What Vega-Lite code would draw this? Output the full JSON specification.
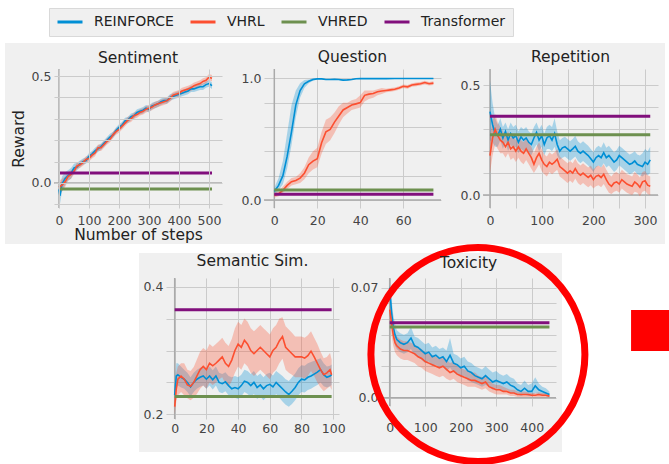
{
"$schema":"https://vega.github.io/schema/vega-lite/v6.json",
"background":"white",
"padding":{"left":5,"top":7,"right":0,"bottom":0},
"bounds":"flush",
"spacing":209,
"resolve":{"scale":{"color":"shared"},"legend":{"color":"shared"}},
"datasets":{
"baselines":[
{"task":"Sentiment","method":"VHRED","reward":-0.028,"from":0,"to":510},
{"task":"Sentiment","method":"Transformer","reward":0.047,"from":0,"to":510},
{"task":"Question","method":"VHRED","reward":0.082,"from":0,"to":74},
{"task":"Question","method":"Transformer","reward":0.047,"from":0,"to":74},
{"task":"Repetition","method":"VHRED","reward":0.275,"from":0,"to":310},
{"task":"Repetition","method":"Transformer","reward":0.359,"from":0,"to":310},
{"task":"Semantic Sim.","method":"VHRED","reward":0.228,"from":0,"to":99},
{"task":"Semantic Sim.","method":"Transformer","reward":0.364,"from":0,"to":99},
{"task":"Toxicity","method":"VHRED","reward":0.045,"from":0,"to":450},
{"task":"Toxicity","method":"Transformer","reward":0.0477,"from":0,"to":450}
],
"sentiment":[
{"method":"REINFORCE","step":0,"reward":-0.03,"lo":-0.07,"hi":0.01},
{"method":"REINFORCE","step":3,"reward":-0.06,"lo":-0.1,"hi":-0.02},
{"method":"REINFORCE","step":10,"reward":-0.005,"lo":-0.04,"hi":0.03},
{"method":"REINFORCE","step":20,"reward":0.02,"lo":-0.01,"hi":0.05},
{"method":"REINFORCE","step":30,"reward":0.035,"lo":0.01,"hi":0.06},
{"method":"REINFORCE","step":40,"reward":0.045,"lo":0.02,"hi":0.07},
{"method":"REINFORCE","step":50,"reward":0.07,"lo":0.05,"hi":0.09},
{"method":"REINFORCE","step":60,"reward":0.075,"lo":0.06,"hi":0.095},
{"method":"REINFORCE","step":70,"reward":0.09,"lo":0.075,"hi":0.105},
{"method":"REINFORCE","step":80,"reward":0.1,"lo":0.085,"hi":0.115},
{"method":"REINFORCE","step":90,"reward":0.105,"lo":0.09,"hi":0.12},
{"method":"REINFORCE","step":100,"reward":0.125,"lo":0.11,"hi":0.14},
{"method":"REINFORCE","step":110,"reward":0.135,"lo":0.12,"hi":0.15},
{"method":"REINFORCE","step":120,"reward":0.15,"lo":0.135,"hi":0.165},
{"method":"REINFORCE","step":130,"reward":0.16,"lo":0.145,"hi":0.175},
{"method":"REINFORCE","step":140,"reward":0.17,"lo":0.155,"hi":0.185},
{"method":"REINFORCE","step":150,"reward":0.185,"lo":0.17,"hi":0.2},
{"method":"REINFORCE","step":160,"reward":0.2,"lo":0.185,"hi":0.215},
{"method":"REINFORCE","step":170,"reward":0.215,"lo":0.2,"hi":0.23},
{"method":"REINFORCE","step":180,"reward":0.225,"lo":0.21,"hi":0.24},
{"method":"REINFORCE","step":190,"reward":0.245,"lo":0.23,"hi":0.26},
{"method":"REINFORCE","step":200,"reward":0.26,"lo":0.245,"hi":0.275},
{"method":"REINFORCE","step":210,"reward":0.27,"lo":0.255,"hi":0.285},
{"method":"REINFORCE","step":220,"reward":0.29,"lo":0.275,"hi":0.305},
{"method":"REINFORCE","step":230,"reward":0.295,"lo":0.28,"hi":0.31},
{"method":"REINFORCE","step":240,"reward":0.31,"lo":0.295,"hi":0.325},
{"method":"REINFORCE","step":250,"reward":0.315,"lo":0.3,"hi":0.33},
{"method":"REINFORCE","step":260,"reward":0.33,"lo":0.315,"hi":0.345},
{"method":"REINFORCE","step":270,"reward":0.335,"lo":0.32,"hi":0.35},
{"method":"REINFORCE","step":280,"reward":0.34,"lo":0.325,"hi":0.355},
{"method":"REINFORCE","step":290,"reward":0.35,"lo":0.335,"hi":0.365},
{"method":"REINFORCE","step":300,"reward":0.345,"lo":0.33,"hi":0.36},
{"method":"REINFORCE","step":310,"reward":0.36,"lo":0.345,"hi":0.375},
{"method":"REINFORCE","step":320,"reward":0.365,"lo":0.35,"hi":0.38},
{"method":"REINFORCE","step":330,"reward":0.37,"lo":0.355,"hi":0.385},
{"method":"REINFORCE","step":340,"reward":0.38,"lo":0.365,"hi":0.395},
{"method":"REINFORCE","step":350,"reward":0.385,"lo":0.37,"hi":0.4},
{"method":"REINFORCE","step":360,"reward":0.385,"lo":0.37,"hi":0.4},
{"method":"REINFORCE","step":370,"reward":0.4,"lo":0.385,"hi":0.415},
{"method":"REINFORCE","step":380,"reward":0.405,"lo":0.39,"hi":0.42},
{"method":"REINFORCE","step":390,"reward":0.41,"lo":0.395,"hi":0.425},
{"method":"REINFORCE","step":400,"reward":0.415,"lo":0.4,"hi":0.43},
{"method":"REINFORCE","step":410,"reward":0.42,"lo":0.405,"hi":0.435},
{"method":"REINFORCE","step":420,"reward":0.425,"lo":0.41,"hi":0.44},
{"method":"REINFORCE","step":430,"reward":0.43,"lo":0.415,"hi":0.445},
{"method":"REINFORCE","step":440,"reward":0.44,"lo":0.425,"hi":0.455},
{"method":"REINFORCE","step":450,"reward":0.44,"lo":0.425,"hi":0.455},
{"method":"REINFORCE","step":460,"reward":0.445,"lo":0.43,"hi":0.46},
{"method":"REINFORCE","step":470,"reward":0.45,"lo":0.435,"hi":0.465},
{"method":"REINFORCE","step":480,"reward":0.45,"lo":0.435,"hi":0.465},
{"method":"REINFORCE","step":490,"reward":0.46,"lo":0.445,"hi":0.475},
{"method":"REINFORCE","step":500,"reward":0.465,"lo":0.45,"hi":0.48},
{"method":"REINFORCE","step":510,"reward":0.455,"lo":0.44,"hi":0.47},
{"method":"VHRL","step":0,"reward":-0.02,"lo":-0.05,"hi":0.01},
{"method":"VHRL","step":10,"reward":-0.01,"lo":-0.04,"hi":0.02},
{"method":"VHRL","step":20,"reward":0.005,"lo":-0.02,"hi":0.03},
{"method":"VHRL","step":30,"reward":0.03,"lo":0.01,"hi":0.05},
{"method":"VHRL","step":40,"reward":0.04,"lo":0.02,"hi":0.06},
{"method":"VHRL","step":50,"reward":0.055,"lo":0.04,"hi":0.07},
{"method":"VHRL","step":60,"reward":0.08,"lo":0.065,"hi":0.095},
{"method":"VHRL","step":70,"reward":0.085,"lo":0.07,"hi":0.1},
{"method":"VHRL","step":80,"reward":0.095,"lo":0.08,"hi":0.11},
{"method":"VHRL","step":90,"reward":0.11,"lo":0.095,"hi":0.125},
{"method":"VHRL","step":100,"reward":0.115,"lo":0.1,"hi":0.13},
{"method":"VHRL","step":110,"reward":0.13,"lo":0.115,"hi":0.145},
{"method":"VHRL","step":120,"reward":0.14,"lo":0.125,"hi":0.155},
{"method":"VHRL","step":130,"reward":0.165,"lo":0.15,"hi":0.18},
{"method":"VHRL","step":140,"reward":0.165,"lo":0.15,"hi":0.18},
{"method":"VHRL","step":150,"reward":0.18,"lo":0.165,"hi":0.195},
{"method":"VHRL","step":160,"reward":0.195,"lo":0.18,"hi":0.21},
{"method":"VHRL","step":170,"reward":0.205,"lo":0.19,"hi":0.22},
{"method":"VHRL","step":180,"reward":0.225,"lo":0.21,"hi":0.24},
{"method":"VHRL","step":190,"reward":0.24,"lo":0.225,"hi":0.255},
{"method":"VHRL","step":200,"reward":0.25,"lo":0.235,"hi":0.265},
{"method":"VHRL","step":210,"reward":0.265,"lo":0.25,"hi":0.28},
{"method":"VHRL","step":220,"reward":0.28,"lo":0.265,"hi":0.295},
{"method":"VHRL","step":230,"reward":0.295,"lo":0.28,"hi":0.31},
{"method":"VHRL","step":240,"reward":0.3,"lo":0.285,"hi":0.315},
{"method":"VHRL","step":250,"reward":0.315,"lo":0.3,"hi":0.33},
{"method":"VHRL","step":260,"reward":0.32,"lo":0.305,"hi":0.335},
{"method":"VHRL","step":270,"reward":0.33,"lo":0.315,"hi":0.345},
{"method":"VHRL","step":280,"reward":0.335,"lo":0.32,"hi":0.35},
{"method":"VHRL","step":290,"reward":0.345,"lo":0.33,"hi":0.36},
{"method":"VHRL","step":300,"reward":0.35,"lo":0.335,"hi":0.365},
{"method":"VHRL","step":310,"reward":0.355,"lo":0.34,"hi":0.37},
{"method":"VHRL","step":320,"reward":0.365,"lo":0.35,"hi":0.38},
{"method":"VHRL","step":330,"reward":0.37,"lo":0.355,"hi":0.385},
{"method":"VHRL","step":340,"reward":0.375,"lo":0.36,"hi":0.39},
{"method":"VHRL","step":350,"reward":0.38,"lo":0.365,"hi":0.395},
{"method":"VHRL","step":360,"reward":0.385,"lo":0.37,"hi":0.4},
{"method":"VHRL","step":370,"reward":0.395,"lo":0.38,"hi":0.41},
{"method":"VHRL","step":380,"reward":0.41,"lo":0.395,"hi":0.425},
{"method":"VHRL","step":390,"reward":0.415,"lo":0.4,"hi":0.43},
{"method":"VHRL","step":400,"reward":0.42,"lo":0.405,"hi":0.435},
{"method":"VHRL","step":410,"reward":0.43,"lo":0.415,"hi":0.445},
{"method":"VHRL","step":420,"reward":0.435,"lo":0.42,"hi":0.45},
{"method":"VHRL","step":430,"reward":0.44,"lo":0.425,"hi":0.455},
{"method":"VHRL","step":440,"reward":0.445,"lo":0.43,"hi":0.46},
{"method":"VHRL","step":450,"reward":0.455,"lo":0.44,"hi":0.47},
{"method":"VHRL","step":460,"reward":0.46,"lo":0.445,"hi":0.475},
{"method":"VHRL","step":470,"reward":0.465,"lo":0.45,"hi":0.48},
{"method":"VHRL","step":480,"reward":0.475,"lo":0.46,"hi":0.49},
{"method":"VHRL","step":490,"reward":0.48,"lo":0.465,"hi":0.495},
{"method":"VHRL","step":500,"reward":0.495,"lo":0.48,"hi":0.51},
{"method":"VHRL","step":510,"reward":0.49,"lo":0.475,"hi":0.505}
],
"question":[
{"method":"REINFORCE","step":0,"reward":0.07,"lo":0.04,"hi":0.1},
{"method":"REINFORCE","step":2,"reward":0.12,"lo":0.08,"hi":0.18},
{"method":"REINFORCE","step":4,"reward":0.2,"lo":0.13,"hi":0.32},
{"method":"REINFORCE","step":6,"reward":0.36,"lo":0.26,"hi":0.55},
{"method":"REINFORCE","step":8,"reward":0.56,"lo":0.45,"hi":0.78},
{"method":"REINFORCE","step":10,"reward":0.78,"lo":0.68,"hi":0.9},
{"method":"REINFORCE","step":12,"reward":0.9,"lo":0.84,"hi":0.96},
{"method":"REINFORCE","step":14,"reward":0.955,"lo":0.92,"hi":0.985},
{"method":"REINFORCE","step":16,"reward":0.975,"lo":0.96,"hi":0.99},
{"method":"REINFORCE","step":18,"reward":0.99,"lo":0.98,"hi":1.0},
{"method":"REINFORCE","step":20,"reward":0.995,"lo":0.99,"hi":1.0},
{"method":"REINFORCE","step":22,"reward":0.995,"lo":0.99,"hi":1.0},
{"method":"REINFORCE","step":24,"reward":0.99,"lo":0.985,"hi":0.995},
{"method":"REINFORCE","step":26,"reward":0.99,"lo":0.985,"hi":0.995},
{"method":"REINFORCE","step":28,"reward":0.992,"lo":0.987,"hi":0.997},
{"method":"REINFORCE","step":30,"reward":0.99,"lo":0.985,"hi":0.995},
{"method":"REINFORCE","step":32,"reward":0.985,"lo":0.978,"hi":0.992},
{"method":"REINFORCE","step":34,"reward":0.987,"lo":0.98,"hi":0.994},
{"method":"REINFORCE","step":36,"reward":0.99,"lo":0.985,"hi":0.995},
{"method":"REINFORCE","step":38,"reward":0.996,"lo":0.992,"hi":1.0},
{"method":"REINFORCE","step":40,"reward":0.997,"lo":0.994,"hi":1.0},
{"method":"REINFORCE","step":44,"reward":0.997,"lo":0.994,"hi":1.0},
{"method":"REINFORCE","step":48,"reward":0.998,"lo":0.995,"hi":1.0},
{"method":"REINFORCE","step":52,"reward":0.997,"lo":0.994,"hi":1.0},
{"method":"REINFORCE","step":56,"reward":0.998,"lo":0.995,"hi":1.0},
{"method":"REINFORCE","step":60,"reward":0.998,"lo":0.995,"hi":1.0},
{"method":"REINFORCE","step":64,"reward":0.998,"lo":0.995,"hi":1.0},
{"method":"REINFORCE","step":68,"reward":0.998,"lo":0.995,"hi":1.0},
{"method":"REINFORCE","step":72,"reward":0.998,"lo":0.995,"hi":1.0},
{"method":"REINFORCE","step":74,"reward":0.998,"lo":0.995,"hi":1.0},
{"method":"VHRL","step":0,"reward":0.04,"lo":0.02,"hi":0.06},
{"method":"VHRL","step":2,"reward":0.05,"lo":0.03,"hi":0.07},
{"method":"VHRL","step":4,"reward":0.08,"lo":0.06,"hi":0.11},
{"method":"VHRL","step":6,"reward":0.12,"lo":0.09,"hi":0.15},
{"method":"VHRL","step":8,"reward":0.15,"lo":0.12,"hi":0.18},
{"method":"VHRL","step":10,"reward":0.16,"lo":0.13,"hi":0.19},
{"method":"VHRL","step":12,"reward":0.18,"lo":0.14,"hi":0.22},
{"method":"VHRL","step":14,"reward":0.22,"lo":0.17,"hi":0.27},
{"method":"VHRL","step":16,"reward":0.29,"lo":0.22,"hi":0.35},
{"method":"VHRL","step":18,"reward":0.32,"lo":0.25,"hi":0.4},
{"method":"VHRL","step":20,"reward":0.34,"lo":0.27,"hi":0.43},
{"method":"VHRL","step":22,"reward":0.47,"lo":0.38,"hi":0.56},
{"method":"VHRL","step":24,"reward":0.56,"lo":0.46,"hi":0.66},
{"method":"VHRL","step":26,"reward":0.58,"lo":0.49,"hi":0.68},
{"method":"VHRL","step":28,"reward":0.64,"lo":0.55,"hi":0.72},
{"method":"VHRL","step":30,"reward":0.69,"lo":0.62,"hi":0.77},
{"method":"VHRL","step":32,"reward":0.74,"lo":0.68,"hi":0.8},
{"method":"VHRL","step":34,"reward":0.76,"lo":0.71,"hi":0.8},
{"method":"VHRL","step":36,"reward":0.78,"lo":0.74,"hi":0.82},
{"method":"VHRL","step":38,"reward":0.79,"lo":0.75,"hi":0.83},
{"method":"VHRL","step":40,"reward":0.8,"lo":0.76,"hi":0.86},
{"method":"VHRL","step":42,"reward":0.86,"lo":0.81,"hi":0.9},
{"method":"VHRL","step":44,"reward":0.87,"lo":0.83,"hi":0.9},
{"method":"VHRL","step":46,"reward":0.875,"lo":0.84,"hi":0.9},
{"method":"VHRL","step":48,"reward":0.89,"lo":0.86,"hi":0.91},
{"method":"VHRL","step":50,"reward":0.895,"lo":0.87,"hi":0.92},
{"method":"VHRL","step":52,"reward":0.9,"lo":0.885,"hi":0.915},
{"method":"VHRL","step":54,"reward":0.905,"lo":0.89,"hi":0.92},
{"method":"VHRL","step":56,"reward":0.91,"lo":0.895,"hi":0.925},
{"method":"VHRL","step":58,"reward":0.92,"lo":0.905,"hi":0.935},
{"method":"VHRL","step":60,"reward":0.935,"lo":0.92,"hi":0.95},
{"method":"VHRL","step":62,"reward":0.93,"lo":0.915,"hi":0.945},
{"method":"VHRL","step":64,"reward":0.945,"lo":0.93,"hi":0.96},
{"method":"VHRL","step":66,"reward":0.95,"lo":0.935,"hi":0.965},
{"method":"VHRL","step":68,"reward":0.955,"lo":0.94,"hi":0.97},
{"method":"VHRL","step":70,"reward":0.965,"lo":0.95,"hi":0.98},
{"method":"VHRL","step":72,"reward":0.955,"lo":0.94,"hi":0.97},
{"method":"VHRL","step":74,"reward":0.96,"lo":0.945,"hi":0.975}
],
"repetition":[
{"method":"REINFORCE","step":0,"reward":0.38,"lo":0.25,"hi":0.52},
{"method":"REINFORCE","step":5,"reward":0.32,"lo":0.24,"hi":0.42},
{"method":"REINFORCE","step":10,"reward":0.28,"lo":0.22,"hi":0.35},
{"method":"REINFORCE","step":15,"reward":0.27,"lo":0.22,"hi":0.32},
{"method":"REINFORCE","step":20,"reward":0.3,"lo":0.25,"hi":0.35},
{"method":"REINFORCE","step":25,"reward":0.26,"lo":0.21,"hi":0.31},
{"method":"REINFORCE","step":30,"reward":0.29,"lo":0.24,"hi":0.33},
{"method":"REINFORCE","step":35,"reward":0.25,"lo":0.2,"hi":0.3},
{"method":"REINFORCE","step":40,"reward":0.28,"lo":0.23,"hi":0.33},
{"method":"REINFORCE","step":45,"reward":0.26,"lo":0.21,"hi":0.31},
{"method":"REINFORCE","step":50,"reward":0.27,"lo":0.22,"hi":0.32},
{"method":"REINFORCE","step":55,"reward":0.24,"lo":0.19,"hi":0.29},
{"method":"REINFORCE","step":60,"reward":0.265,"lo":0.21,"hi":0.31},
{"method":"REINFORCE","step":65,"reward":0.25,"lo":0.2,"hi":0.3},
{"method":"REINFORCE","step":70,"reward":0.26,"lo":0.21,"hi":0.31},
{"method":"REINFORCE","step":75,"reward":0.24,"lo":0.19,"hi":0.29},
{"method":"REINFORCE","step":80,"reward":0.23,"lo":0.18,"hi":0.28},
{"method":"REINFORCE","step":85,"reward":0.26,"lo":0.21,"hi":0.31},
{"method":"REINFORCE","step":90,"reward":0.285,"lo":0.23,"hi":0.33},
{"method":"REINFORCE","step":95,"reward":0.25,"lo":0.2,"hi":0.3},
{"method":"REINFORCE","step":100,"reward":0.27,"lo":0.22,"hi":0.32},
{"method":"REINFORCE","step":105,"reward":0.23,"lo":0.18,"hi":0.28},
{"method":"REINFORCE","step":110,"reward":0.26,"lo":0.21,"hi":0.31},
{"method":"REINFORCE","step":115,"reward":0.27,"lo":0.21,"hi":0.32},
{"method":"REINFORCE","step":120,"reward":0.25,"lo":0.2,"hi":0.31},
{"method":"REINFORCE","step":125,"reward":0.28,"lo":0.22,"hi":0.35},
{"method":"REINFORCE","step":130,"reward":0.23,"lo":0.18,"hi":0.29},
{"method":"REINFORCE","step":135,"reward":0.2,"lo":0.16,"hi":0.25},
{"method":"REINFORCE","step":140,"reward":0.215,"lo":0.17,"hi":0.26},
{"method":"REINFORCE","step":145,"reward":0.22,"lo":0.175,"hi":0.265},
{"method":"REINFORCE","step":150,"reward":0.21,"lo":0.165,"hi":0.255},
{"method":"REINFORCE","step":155,"reward":0.2,"lo":0.155,"hi":0.245},
{"method":"REINFORCE","step":160,"reward":0.21,"lo":0.165,"hi":0.255},
{"method":"REINFORCE","step":165,"reward":0.222,"lo":0.175,"hi":0.27},
{"method":"REINFORCE","step":170,"reward":0.2,"lo":0.155,"hi":0.245},
{"method":"REINFORCE","step":175,"reward":0.19,"lo":0.145,"hi":0.235},
{"method":"REINFORCE","step":180,"reward":0.2,"lo":0.155,"hi":0.245},
{"method":"REINFORCE","step":185,"reward":0.19,"lo":0.145,"hi":0.235},
{"method":"REINFORCE","step":190,"reward":0.18,"lo":0.135,"hi":0.225},
{"method":"REINFORCE","step":195,"reward":0.165,"lo":0.12,"hi":0.21},
{"method":"REINFORCE","step":200,"reward":0.15,"lo":0.105,"hi":0.195},
{"method":"REINFORCE","step":205,"reward":0.17,"lo":0.125,"hi":0.215},
{"method":"REINFORCE","step":210,"reward":0.18,"lo":0.135,"hi":0.225},
{"method":"REINFORCE","step":215,"reward":0.17,"lo":0.125,"hi":0.215},
{"method":"REINFORCE","step":220,"reward":0.193,"lo":0.145,"hi":0.24},
{"method":"REINFORCE","step":225,"reward":0.17,"lo":0.125,"hi":0.215},
{"method":"REINFORCE","step":230,"reward":0.18,"lo":0.135,"hi":0.225},
{"method":"REINFORCE","step":235,"reward":0.165,"lo":0.12,"hi":0.21},
{"method":"REINFORCE","step":240,"reward":0.15,"lo":0.105,"hi":0.195},
{"method":"REINFORCE","step":245,"reward":0.16,"lo":0.115,"hi":0.205},
{"method":"REINFORCE","step":250,"reward":0.18,"lo":0.135,"hi":0.225},
{"method":"REINFORCE","step":255,"reward":0.17,"lo":0.125,"hi":0.215},
{"method":"REINFORCE","step":260,"reward":0.16,"lo":0.115,"hi":0.205},
{"method":"REINFORCE","step":265,"reward":0.15,"lo":0.105,"hi":0.195},
{"method":"REINFORCE","step":270,"reward":0.14,"lo":0.095,"hi":0.185},
{"method":"REINFORCE","step":275,"reward":0.145,"lo":0.1,"hi":0.19},
{"method":"REINFORCE","step":280,"reward":0.155,"lo":0.11,"hi":0.2},
{"method":"REINFORCE","step":285,"reward":0.14,"lo":0.095,"hi":0.185},
{"method":"REINFORCE","step":290,"reward":0.135,"lo":0.09,"hi":0.18},
{"method":"REINFORCE","step":295,"reward":0.13,"lo":0.085,"hi":0.19},
{"method":"REINFORCE","step":300,"reward":0.15,"lo":0.095,"hi":0.21},
{"method":"REINFORCE","step":305,"reward":0.14,"lo":0.09,"hi":0.2},
{"method":"REINFORCE","step":310,"reward":0.16,"lo":0.1,"hi":0.22},
{"method":"VHRL","step":0,"reward":0.18,"lo":0.1,"hi":0.27},
{"method":"VHRL","step":5,"reward":0.26,"lo":0.18,"hi":0.34},
{"method":"VHRL","step":10,"reward":0.3,"lo":0.23,"hi":0.37},
{"method":"VHRL","step":15,"reward":0.27,"lo":0.21,"hi":0.33},
{"method":"VHRL","step":20,"reward":0.25,"lo":0.19,"hi":0.31},
{"method":"VHRL","step":25,"reward":0.24,"lo":0.19,"hi":0.29},
{"method":"VHRL","step":30,"reward":0.22,"lo":0.17,"hi":0.27},
{"method":"VHRL","step":35,"reward":0.24,"lo":0.19,"hi":0.29},
{"method":"VHRL","step":40,"reward":0.21,"lo":0.16,"hi":0.26},
{"method":"VHRL","step":45,"reward":0.22,"lo":0.17,"hi":0.27},
{"method":"VHRL","step":50,"reward":0.2,"lo":0.15,"hi":0.25},
{"method":"VHRL","step":55,"reward":0.22,"lo":0.17,"hi":0.27},
{"method":"VHRL","step":60,"reward":0.2,"lo":0.15,"hi":0.25},
{"method":"VHRL","step":65,"reward":0.19,"lo":0.14,"hi":0.24},
{"method":"VHRL","step":70,"reward":0.21,"lo":0.16,"hi":0.26},
{"method":"VHRL","step":75,"reward":0.19,"lo":0.14,"hi":0.24},
{"method":"VHRL","step":80,"reward":0.17,"lo":0.12,"hi":0.22},
{"method":"VHRL","step":85,"reward":0.14,"lo":0.1,"hi":0.19},
{"method":"VHRL","step":90,"reward":0.17,"lo":0.12,"hi":0.22},
{"method":"VHRL","step":95,"reward":0.19,"lo":0.14,"hi":0.24},
{"method":"VHRL","step":100,"reward":0.16,"lo":0.11,"hi":0.21},
{"method":"VHRL","step":105,"reward":0.14,"lo":0.095,"hi":0.185},
{"method":"VHRL","step":110,"reward":0.13,"lo":0.085,"hi":0.175},
{"method":"VHRL","step":115,"reward":0.15,"lo":0.105,"hi":0.195},
{"method":"VHRL","step":120,"reward":0.14,"lo":0.095,"hi":0.185},
{"method":"VHRL","step":125,"reward":0.15,"lo":0.105,"hi":0.195},
{"method":"VHRL","step":130,"reward":0.163,"lo":0.115,"hi":0.21},
{"method":"VHRL","step":135,"reward":0.13,"lo":0.085,"hi":0.175},
{"method":"VHRL","step":140,"reward":0.12,"lo":0.075,"hi":0.165},
{"method":"VHRL","step":145,"reward":0.11,"lo":0.065,"hi":0.155},
{"method":"VHRL","step":150,"reward":0.1,"lo":0.055,"hi":0.145},
{"method":"VHRL","step":155,"reward":0.11,"lo":0.065,"hi":0.155},
{"method":"VHRL","step":160,"reward":0.1,"lo":0.055,"hi":0.145},
{"method":"VHRL","step":165,"reward":0.12,"lo":0.075,"hi":0.165},
{"method":"VHRL","step":170,"reward":0.1,"lo":0.055,"hi":0.145},
{"method":"VHRL","step":175,"reward":0.09,"lo":0.045,"hi":0.135},
{"method":"VHRL","step":180,"reward":0.1,"lo":0.055,"hi":0.145},
{"method":"VHRL","step":185,"reward":0.09,"lo":0.045,"hi":0.135},
{"method":"VHRL","step":190,"reward":0.08,"lo":0.035,"hi":0.125},
{"method":"VHRL","step":195,"reward":0.09,"lo":0.045,"hi":0.135},
{"method":"VHRL","step":200,"reward":0.07,"lo":0.03,"hi":0.115},
{"method":"VHRL","step":205,"reward":0.085,"lo":0.04,"hi":0.13},
{"method":"VHRL","step":210,"reward":0.09,"lo":0.045,"hi":0.135},
{"method":"VHRL","step":215,"reward":0.08,"lo":0.035,"hi":0.125},
{"method":"VHRL","step":220,"reward":0.095,"lo":0.05,"hi":0.14},
{"method":"VHRL","step":225,"reward":0.07,"lo":0.03,"hi":0.115},
{"method":"VHRL","step":230,"reward":0.05,"lo":0.01,"hi":0.095},
{"method":"VHRL","step":235,"reward":0.04,"lo":0.005,"hi":0.085},
{"method":"VHRL","step":240,"reward":0.055,"lo":0.015,"hi":0.1},
{"method":"VHRL","step":245,"reward":0.06,"lo":0.02,"hi":0.105},
{"method":"VHRL","step":250,"reward":0.05,"lo":0.01,"hi":0.095},
{"method":"VHRL","step":255,"reward":0.07,"lo":0.03,"hi":0.115},
{"method":"VHRL","step":260,"reward":0.06,"lo":0.02,"hi":0.105},
{"method":"VHRL","step":265,"reward":0.05,"lo":0.01,"hi":0.095},
{"method":"VHRL","step":270,"reward":0.045,"lo":0.005,"hi":0.09},
{"method":"VHRL","step":275,"reward":0.04,"lo":0.0,"hi":0.085},
{"method":"VHRL","step":280,"reward":0.06,"lo":0.015,"hi":0.105},
{"method":"VHRL","step":285,"reward":0.05,"lo":0.01,"hi":0.095},
{"method":"VHRL","step":290,"reward":0.035,"lo":-0.005,"hi":0.08},
{"method":"VHRL","step":295,"reward":0.06,"lo":0.015,"hi":0.105},
{"method":"VHRL","step":300,"reward":0.065,"lo":0.02,"hi":0.11},
{"method":"VHRL","step":305,"reward":0.045,"lo":0.005,"hi":0.09},
{"method":"VHRL","step":310,"reward":0.04,"lo":0.0,"hi":0.085}
],
"semantic":[
{"method":"REINFORCE","step":0,"reward":0.23,"lo":0.215,"hi":0.245},
{"method":"REINFORCE","step":1,"reward":0.26,"lo":0.24,"hi":0.28},
{"method":"REINFORCE","step":2,"reward":0.262,"lo":0.245,"hi":0.28},
{"method":"REINFORCE","step":4,"reward":0.258,"lo":0.242,"hi":0.275},
{"method":"REINFORCE","step":6,"reward":0.255,"lo":0.24,"hi":0.27},
{"method":"REINFORCE","step":8,"reward":0.25,"lo":0.235,"hi":0.265},
{"method":"REINFORCE","step":10,"reward":0.243,"lo":0.228,"hi":0.258},
{"method":"REINFORCE","step":12,"reward":0.25,"lo":0.235,"hi":0.265},
{"method":"REINFORCE","step":14,"reward":0.255,"lo":0.24,"hi":0.27},
{"method":"REINFORCE","step":16,"reward":0.258,"lo":0.243,"hi":0.273},
{"method":"REINFORCE","step":18,"reward":0.26,"lo":0.245,"hi":0.275},
{"method":"REINFORCE","step":20,"reward":0.255,"lo":0.24,"hi":0.27},
{"method":"REINFORCE","step":22,"reward":0.26,"lo":0.245,"hi":0.275},
{"method":"REINFORCE","step":24,"reward":0.254,"lo":0.239,"hi":0.269},
{"method":"REINFORCE","step":26,"reward":0.26,"lo":0.245,"hi":0.275},
{"method":"REINFORCE","step":28,"reward":0.25,"lo":0.235,"hi":0.265},
{"method":"REINFORCE","step":30,"reward":0.248,"lo":0.233,"hi":0.263},
{"method":"REINFORCE","step":32,"reward":0.251,"lo":0.236,"hi":0.266},
{"method":"REINFORCE","step":34,"reward":0.245,"lo":0.23,"hi":0.26},
{"method":"REINFORCE","step":36,"reward":0.24,"lo":0.225,"hi":0.258},
{"method":"REINFORCE","step":38,"reward":0.242,"lo":0.226,"hi":0.26},
{"method":"REINFORCE","step":40,"reward":0.24,"lo":0.224,"hi":0.258},
{"method":"REINFORCE","step":42,"reward":0.245,"lo":0.228,"hi":0.262},
{"method":"REINFORCE","step":44,"reward":0.252,"lo":0.235,"hi":0.27},
{"method":"REINFORCE","step":46,"reward":0.25,"lo":0.232,"hi":0.268},
{"method":"REINFORCE","step":48,"reward":0.245,"lo":0.227,"hi":0.263},
{"method":"REINFORCE","step":50,"reward":0.25,"lo":0.232,"hi":0.268},
{"method":"REINFORCE","step":52,"reward":0.242,"lo":0.224,"hi":0.26},
{"method":"REINFORCE","step":54,"reward":0.246,"lo":0.228,"hi":0.264},
{"method":"REINFORCE","step":56,"reward":0.24,"lo":0.222,"hi":0.258},
{"method":"REINFORCE","step":58,"reward":0.245,"lo":0.227,"hi":0.263},
{"method":"REINFORCE","step":60,"reward":0.247,"lo":0.229,"hi":0.265},
{"method":"REINFORCE","step":62,"reward":0.243,"lo":0.225,"hi":0.261},
{"method":"REINFORCE","step":64,"reward":0.25,"lo":0.232,"hi":0.268},
{"method":"REINFORCE","step":66,"reward":0.245,"lo":0.226,"hi":0.264},
{"method":"REINFORCE","step":68,"reward":0.24,"lo":0.22,"hi":0.26},
{"method":"REINFORCE","step":70,"reward":0.235,"lo":0.215,"hi":0.255},
{"method":"REINFORCE","step":72,"reward":0.231,"lo":0.212,"hi":0.252},
{"method":"REINFORCE","step":74,"reward":0.236,"lo":0.216,"hi":0.258},
{"method":"REINFORCE","step":76,"reward":0.242,"lo":0.222,"hi":0.264},
{"method":"REINFORCE","step":78,"reward":0.25,"lo":0.23,"hi":0.272},
{"method":"REINFORCE","step":80,"reward":0.255,"lo":0.235,"hi":0.277},
{"method":"REINFORCE","step":82,"reward":0.254,"lo":0.234,"hi":0.276},
{"method":"REINFORCE","step":84,"reward":0.258,"lo":0.238,"hi":0.28},
{"method":"REINFORCE","step":86,"reward":0.26,"lo":0.24,"hi":0.282},
{"method":"REINFORCE","step":88,"reward":0.263,"lo":0.243,"hi":0.284},
{"method":"REINFORCE","step":90,"reward":0.266,"lo":0.246,"hi":0.286},
{"method":"REINFORCE","step":92,"reward":0.27,"lo":0.25,"hi":0.288},
{"method":"REINFORCE","step":94,"reward":0.262,"lo":0.244,"hi":0.28},
{"method":"REINFORCE","step":96,"reward":0.258,"lo":0.242,"hi":0.275},
{"method":"REINFORCE","step":98,"reward":0.26,"lo":0.244,"hi":0.276},
{"method":"REINFORCE","step":99,"reward":0.262,"lo":0.246,"hi":0.278},
{"method":"VHRL","step":0,"reward":0.212,"lo":0.2,"hi":0.235},
{"method":"VHRL","step":1,"reward":0.24,"lo":0.22,"hi":0.265},
{"method":"VHRL","step":2,"reward":0.255,"lo":0.23,"hi":0.275},
{"method":"VHRL","step":4,"reward":0.26,"lo":0.235,"hi":0.28},
{"method":"VHRL","step":6,"reward":0.255,"lo":0.23,"hi":0.28},
{"method":"VHRL","step":8,"reward":0.246,"lo":0.225,"hi":0.27},
{"method":"VHRL","step":10,"reward":0.244,"lo":0.222,"hi":0.268},
{"method":"VHRL","step":12,"reward":0.25,"lo":0.226,"hi":0.274},
{"method":"VHRL","step":14,"reward":0.26,"lo":0.232,"hi":0.286},
{"method":"VHRL","step":16,"reward":0.27,"lo":0.24,"hi":0.298},
{"method":"VHRL","step":18,"reward":0.275,"lo":0.245,"hi":0.304},
{"method":"VHRL","step":20,"reward":0.27,"lo":0.24,"hi":0.3},
{"method":"VHRL","step":22,"reward":0.28,"lo":0.25,"hi":0.31},
{"method":"VHRL","step":24,"reward":0.276,"lo":0.246,"hi":0.306},
{"method":"VHRL","step":26,"reward":0.28,"lo":0.25,"hi":0.31},
{"method":"VHRL","step":28,"reward":0.285,"lo":0.255,"hi":0.315},
{"method":"VHRL","step":30,"reward":0.29,"lo":0.258,"hi":0.32},
{"method":"VHRL","step":32,"reward":0.28,"lo":0.248,"hi":0.312},
{"method":"VHRL","step":34,"reward":0.275,"lo":0.243,"hi":0.307},
{"method":"VHRL","step":36,"reward":0.285,"lo":0.252,"hi":0.318},
{"method":"VHRL","step":38,"reward":0.3,"lo":0.265,"hi":0.335},
{"method":"VHRL","step":40,"reward":0.31,"lo":0.275,"hi":0.345},
{"method":"VHRL","step":42,"reward":0.305,"lo":0.27,"hi":0.34},
{"method":"VHRL","step":44,"reward":0.316,"lo":0.28,"hi":0.35},
{"method":"VHRL","step":46,"reward":0.31,"lo":0.275,"hi":0.345},
{"method":"VHRL","step":48,"reward":0.3,"lo":0.265,"hi":0.335},
{"method":"VHRL","step":50,"reward":0.295,"lo":0.26,"hi":0.33},
{"method":"VHRL","step":52,"reward":0.3,"lo":0.265,"hi":0.335},
{"method":"VHRL","step":54,"reward":0.305,"lo":0.27,"hi":0.34},
{"method":"VHRL","step":56,"reward":0.3,"lo":0.265,"hi":0.335},
{"method":"VHRL","step":58,"reward":0.295,"lo":0.26,"hi":0.33},
{"method":"VHRL","step":60,"reward":0.29,"lo":0.255,"hi":0.325},
{"method":"VHRL","step":62,"reward":0.3,"lo":0.265,"hi":0.335},
{"method":"VHRL","step":64,"reward":0.305,"lo":0.27,"hi":0.34},
{"method":"VHRL","step":66,"reward":0.315,"lo":0.28,"hi":0.35},
{"method":"VHRL","step":68,"reward":0.322,"lo":0.287,"hi":0.352},
{"method":"VHRL","step":70,"reward":0.305,"lo":0.27,"hi":0.338},
{"method":"VHRL","step":72,"reward":0.3,"lo":0.265,"hi":0.333},
{"method":"VHRL","step":74,"reward":0.295,"lo":0.262,"hi":0.328},
{"method":"VHRL","step":76,"reward":0.29,"lo":0.258,"hi":0.322},
{"method":"VHRL","step":78,"reward":0.29,"lo":0.258,"hi":0.322},
{"method":"VHRL","step":80,"reward":0.29,"lo":0.258,"hi":0.322},
{"method":"VHRL","step":82,"reward":0.288,"lo":0.256,"hi":0.32},
{"method":"VHRL","step":84,"reward":0.292,"lo":0.26,"hi":0.324},
{"method":"VHRL","step":86,"reward":0.299,"lo":0.268,"hi":0.33},
{"method":"VHRL","step":88,"reward":0.29,"lo":0.26,"hi":0.32},
{"method":"VHRL","step":90,"reward":0.28,"lo":0.25,"hi":0.31},
{"method":"VHRL","step":92,"reward":0.27,"lo":0.242,"hi":0.298},
{"method":"VHRL","step":94,"reward":0.262,"lo":0.236,"hi":0.288},
{"method":"VHRL","step":96,"reward":0.265,"lo":0.24,"hi":0.29},
{"method":"VHRL","step":98,"reward":0.27,"lo":0.244,"hi":0.296},
{"method":"VHRL","step":99,"reward":0.262,"lo":0.238,"hi":0.286}
],
"toxicity":[
{"method":"REINFORCE","step":0,"reward":0.07,"lo":0.063,"hi":0.072},
{"method":"REINFORCE","step":5,"reward":0.055,"lo":0.048,"hi":0.063},
{"method":"REINFORCE","step":10,"reward":0.045,"lo":0.038,"hi":0.053},
{"method":"REINFORCE","step":15,"reward":0.04,"lo":0.033,"hi":0.047},
{"method":"REINFORCE","step":20,"reward":0.037,"lo":0.031,"hi":0.043},
{"method":"REINFORCE","step":30,"reward":0.035,"lo":0.029,"hi":0.041},
{"method":"REINFORCE","step":40,"reward":0.034,"lo":0.028,"hi":0.04},
{"method":"REINFORCE","step":50,"reward":0.035,"lo":0.029,"hi":0.041},
{"method":"REINFORCE","step":60,"reward":0.038,"lo":0.031,"hi":0.045},
{"method":"REINFORCE","step":70,"reward":0.033,"lo":0.027,"hi":0.039},
{"method":"REINFORCE","step":80,"reward":0.032,"lo":0.026,"hi":0.038},
{"method":"REINFORCE","step":90,"reward":0.03,"lo":0.024,"hi":0.036},
{"method":"REINFORCE","step":100,"reward":0.028,"lo":0.022,"hi":0.034},
{"method":"REINFORCE","step":110,"reward":0.029,"lo":0.023,"hi":0.035},
{"method":"REINFORCE","step":120,"reward":0.026,"lo":0.02,"hi":0.032},
{"method":"REINFORCE","step":130,"reward":0.027,"lo":0.021,"hi":0.033},
{"method":"REINFORCE","step":140,"reward":0.025,"lo":0.019,"hi":0.031},
{"method":"REINFORCE","step":150,"reward":0.026,"lo":0.02,"hi":0.032},
{"method":"REINFORCE","step":160,"reward":0.023,"lo":0.017,"hi":0.03},
{"method":"REINFORCE","step":170,"reward":0.027,"lo":0.019,"hi":0.038},
{"method":"REINFORCE","step":180,"reward":0.022,"lo":0.016,"hi":0.028},
{"method":"REINFORCE","step":190,"reward":0.021,"lo":0.015,"hi":0.027},
{"method":"REINFORCE","step":200,"reward":0.019,"lo":0.013,"hi":0.025},
{"method":"REINFORCE","step":210,"reward":0.02,"lo":0.014,"hi":0.026},
{"method":"REINFORCE","step":220,"reward":0.017,"lo":0.011,"hi":0.023},
{"method":"REINFORCE","step":230,"reward":0.016,"lo":0.01,"hi":0.022},
{"method":"REINFORCE","step":240,"reward":0.014,"lo":0.009,"hi":0.02},
{"method":"REINFORCE","step":250,"reward":0.013,"lo":0.008,"hi":0.019},
{"method":"REINFORCE","step":260,"reward":0.012,"lo":0.007,"hi":0.018},
{"method":"REINFORCE","step":270,"reward":0.014,"lo":0.008,"hi":0.02},
{"method":"REINFORCE","step":280,"reward":0.012,"lo":0.007,"hi":0.018},
{"method":"REINFORCE","step":290,"reward":0.01,"lo":0.005,"hi":0.016},
{"method":"REINFORCE","step":300,"reward":0.011,"lo":0.006,"hi":0.017},
{"method":"REINFORCE","step":310,"reward":0.01,"lo":0.005,"hi":0.015},
{"method":"REINFORCE","step":320,"reward":0.009,"lo":0.004,"hi":0.014},
{"method":"REINFORCE","step":330,"reward":0.01,"lo":0.005,"hi":0.015},
{"method":"REINFORCE","step":340,"reward":0.008,"lo":0.003,"hi":0.013},
{"method":"REINFORCE","step":350,"reward":0.007,"lo":0.003,"hi":0.012},
{"method":"REINFORCE","step":360,"reward":0.005,"lo":0.002,"hi":0.009},
{"method":"REINFORCE","step":370,"reward":0.004,"lo":0.001,"hi":0.008},
{"method":"REINFORCE","step":380,"reward":0.006,"lo":0.002,"hi":0.011},
{"method":"REINFORCE","step":390,"reward":0.004,"lo":0.001,"hi":0.008},
{"method":"REINFORCE","step":400,"reward":0.004,"lo":0.001,"hi":0.009},
{"method":"REINFORCE","step":410,"reward":0.0075,"lo":0.003,"hi":0.013},
{"method":"REINFORCE","step":420,"reward":0.005,"lo":0.002,"hi":0.009},
{"method":"REINFORCE","step":430,"reward":0.004,"lo":0.001,"hi":0.007},
{"method":"REINFORCE","step":440,"reward":0.003,"lo":0.001,"hi":0.006},
{"method":"REINFORCE","step":450,"reward":0.002,"lo":0.0005,"hi":0.004},
{"method":"VHRL","step":0,"reward":0.056,"lo":0.048,"hi":0.064},
{"method":"VHRL","step":5,"reward":0.048,"lo":0.04,"hi":0.056},
{"method":"VHRL","step":10,"reward":0.04,"lo":0.033,"hi":0.047},
{"method":"VHRL","step":15,"reward":0.035,"lo":0.029,"hi":0.041},
{"method":"VHRL","step":20,"reward":0.033,"lo":0.027,"hi":0.039},
{"method":"VHRL","step":30,"reward":0.031,"lo":0.025,"hi":0.037},
{"method":"VHRL","step":40,"reward":0.03,"lo":0.024,"hi":0.036},
{"method":"VHRL","step":50,"reward":0.03,"lo":0.024,"hi":0.036},
{"method":"VHRL","step":60,"reward":0.029,"lo":0.023,"hi":0.035},
{"method":"VHRL","step":70,"reward":0.028,"lo":0.022,"hi":0.034},
{"method":"VHRL","step":80,"reward":0.026,"lo":0.02,"hi":0.032},
{"method":"VHRL","step":90,"reward":0.025,"lo":0.019,"hi":0.031},
{"method":"VHRL","step":100,"reward":0.023,"lo":0.017,"hi":0.029},
{"method":"VHRL","step":110,"reward":0.022,"lo":0.016,"hi":0.028},
{"method":"VHRL","step":120,"reward":0.021,"lo":0.015,"hi":0.027},
{"method":"VHRL","step":130,"reward":0.02,"lo":0.014,"hi":0.026},
{"method":"VHRL","step":140,"reward":0.019,"lo":0.013,"hi":0.025},
{"method":"VHRL","step":150,"reward":0.02,"lo":0.014,"hi":0.026},
{"method":"VHRL","step":160,"reward":0.018,"lo":0.012,"hi":0.024},
{"method":"VHRL","step":170,"reward":0.016,"lo":0.011,"hi":0.022},
{"method":"VHRL","step":180,"reward":0.017,"lo":0.012,"hi":0.023},
{"method":"VHRL","step":190,"reward":0.015,"lo":0.01,"hi":0.02},
{"method":"VHRL","step":200,"reward":0.014,"lo":0.009,"hi":0.019},
{"method":"VHRL","step":210,"reward":0.013,"lo":0.008,"hi":0.018},
{"method":"VHRL","step":220,"reward":0.012,"lo":0.007,"hi":0.017},
{"method":"VHRL","step":230,"reward":0.011,"lo":0.007,"hi":0.016},
{"method":"VHRL","step":240,"reward":0.011,"lo":0.007,"hi":0.016},
{"method":"VHRL","step":250,"reward":0.01,"lo":0.006,"hi":0.014},
{"method":"VHRL","step":260,"reward":0.009,"lo":0.005,"hi":0.013},
{"method":"VHRL","step":270,"reward":0.01,"lo":0.006,"hi":0.014},
{"method":"VHRL","step":280,"reward":0.007,"lo":0.004,"hi":0.011},
{"method":"VHRL","step":290,"reward":0.006,"lo":0.003,"hi":0.009},
{"method":"VHRL","step":300,"reward":0.005,"lo":0.002,"hi":0.008},
{"method":"VHRL","step":310,"reward":0.005,"lo":0.002,"hi":0.008},
{"method":"VHRL","step":320,"reward":0.004,"lo":0.002,"hi":0.007},
{"method":"VHRL","step":330,"reward":0.004,"lo":0.002,"hi":0.006},
{"method":"VHRL","step":340,"reward":0.003,"lo":0.001,"hi":0.005},
{"method":"VHRL","step":350,"reward":0.003,"lo":0.001,"hi":0.005},
{"method":"VHRL","step":360,"reward":0.002,"lo":0.0005,"hi":0.004},
{"method":"VHRL","step":370,"reward":0.002,"lo":0.0005,"hi":0.004},
{"method":"VHRL","step":380,"reward":0.002,"lo":0.0005,"hi":0.004},
{"method":"VHRL","step":390,"reward":0.002,"lo":0.0005,"hi":0.0035},
{"method":"VHRL","step":400,"reward":0.0015,"lo":0.0003,"hi":0.003},
{"method":"VHRL","step":410,"reward":0.0015,"lo":0.0003,"hi":0.003},
{"method":"VHRL","step":420,"reward":0.002,"lo":0.0005,"hi":0.0035},
{"method":"VHRL","step":430,"reward":0.0015,"lo":0.0003,"hi":0.003},
{"method":"VHRL","step":440,"reward":0.0015,"lo":0.0003,"hi":0.003},
{"method":"VHRL","step":450,"reward":0.001,"lo":0.0002,"hi":0.0025}
]
},
"vconcat":[
{"hconcat":[
{"width":168,"height":139,"title":{"text":"Sentiment","offset":-23,"zindex":1},
"layer":[
{"data":{"values":[{}]},"mark":{"type":"rect","color":"#f0f0f0","clip":false},
"encoding":{"x":{"datum":-180,"type":"quantitative","scale":{"domain":[-16.7,543.3],"nice":false,"zero":false},"axis":{"values":[0,100,200,300,400,500],"title":"Number of steps","zindex":1,"orient":"bottom"}},"x2":{"datum":2020},"y":{"datum":0.654,"type":"quantitative","scale":{"domain":[-0.117,0.533],"nice":false,"zero":false},"axis":{"values":[-0.1,0,0.1,0.2,0.3,0.4,0.5],"labelExpr":"datum.value == 0 ? '0.0' : datum.value == 0.5 ? '0.5' : ''","title":"Reward","zindex":1,"orient":"left"}},"y2":{"datum":-0.285}}},
{"data":{"values":[{}]},"mark":{"type":"rule","color":"#aaaaaa","strokeWidth":1.5},
"encoding":{"x":{"datum":0,"type":"quantitative","scale":{"domain":[-16.7,543.3],"nice":false,"zero":false},"axis":{"values":[0,100,200,300,400,500],"title":"Number of steps","zindex":1,"orient":"bottom"}}}},
{"data":{"values":[{}]},"mark":{"type":"rule","color":"#aaaaaa","strokeWidth":1.5},
"encoding":{"y":{"datum":0,"type":"quantitative","scale":{"domain":[-0.117,0.533],"nice":false,"zero":false},"axis":{"values":[-0.1,0,0.1,0.2,0.3,0.4,0.5],"labelExpr":"datum.value == 0 ? '0.0' : datum.value == 0.5 ? '0.5' : ''","title":"Reward","zindex":1,"orient":"left"}}}},
{"data":{"name":"sentiment"},"transform":[{"filter":"datum.method == 'REINFORCE'"}],"mark":{"type":"area","color":"#008fd5","opacity":0.3},
"encoding":{"x":{"field":"step","type":"quantitative","scale":{"domain":[-16.7,543.3],"nice":false,"zero":false},"axis":{"values":[0,100,200,300,400,500],"title":"Number of steps","zindex":1,"orient":"bottom"}},"y":{"field":"lo","type":"quantitative","scale":{"domain":[-0.117,0.533],"nice":false,"zero":false},"axis":{"values":[-0.1,0,0.1,0.2,0.3,0.4,0.5],"labelExpr":"datum.value == 0 ? '0.0' : datum.value == 0.5 ? '0.5' : ''","title":"Reward","zindex":1,"orient":"left"}},"y2":{"field":"hi"}}},
{"data":{"name":"sentiment"},"transform":[{"filter":"datum.method == 'VHRL'"}],"mark":{"type":"area","color":"#fc4f30","opacity":0.3},
"encoding":{"x":{"field":"step","type":"quantitative","scale":{"domain":[-16.7,543.3],"nice":false,"zero":false},"axis":{"values":[0,100,200,300,400,500],"title":"Number of steps","zindex":1,"orient":"bottom"}},"y":{"field":"lo","type":"quantitative","scale":{"domain":[-0.117,0.533],"nice":false,"zero":false},"axis":{"values":[-0.1,0,0.1,0.2,0.3,0.4,0.5],"labelExpr":"datum.value == 0 ? '0.0' : datum.value == 0.5 ? '0.5' : ''","title":"Reward","zindex":1,"orient":"left"}},"y2":{"field":"hi"}}},
{"data":{"name":"sentiment"},"transform":[{"filter":"datum.method == 'REINFORCE'"}],"mark":{"type":"line","color":"#008fd5","strokeWidth":1.6},
"encoding":{"x":{"field":"step","type":"quantitative","scale":{"domain":[-16.7,543.3],"nice":false,"zero":false},"axis":{"values":[0,100,200,300,400,500],"title":"Number of steps","zindex":1,"orient":"bottom"}},"y":{"field":"reward","type":"quantitative","scale":{"domain":[-0.117,0.533],"nice":false,"zero":false},"axis":{"values":[-0.1,0,0.1,0.2,0.3,0.4,0.5],"labelExpr":"datum.value == 0 ? '0.0' : datum.value == 0.5 ? '0.5' : ''","title":"Reward","zindex":1,"orient":"left"}}}},
{"data":{"name":"sentiment"},"transform":[{"filter":"datum.method == 'VHRL'"}],"mark":{"type":"line","color":"#fc4f30","strokeWidth":1.6},
"encoding":{"x":{"field":"step","type":"quantitative","scale":{"domain":[-16.7,543.3],"nice":false,"zero":false},"axis":{"values":[0,100,200,300,400,500],"title":"Number of steps","zindex":1,"orient":"bottom"}},"y":{"field":"reward","type":"quantitative","scale":{"domain":[-0.117,0.533],"nice":false,"zero":false},"axis":{"values":[-0.1,0,0.1,0.2,0.3,0.4,0.5],"labelExpr":"datum.value == 0 ? '0.0' : datum.value == 0.5 ? '0.5' : ''","title":"Reward","zindex":1,"orient":"left"}}}},
{"data":{"name":"baselines"},"transform":[{"filter":"datum.task == 'Sentiment'"}],"mark":{"type":"rule","strokeWidth":3},
"encoding":{"x":{"field":"from","type":"quantitative","scale":{"domain":[-16.7,543.3],"nice":false,"zero":false},"axis":{"values":[0,100,200,300,400,500],"title":"Number of steps","zindex":1,"orient":"bottom"}},"x2":{"field":"to"},"y":{"field":"reward","type":"quantitative","scale":{"domain":[-0.117,0.533],"nice":false,"zero":false},"axis":{"values":[-0.1,0,0.1,0.2,0.3,0.4,0.5],"labelExpr":"datum.value == 0 ? '0.0' : datum.value == 0.5 ? '0.5' : ''","title":"Reward","zindex":1,"orient":"left"}},"color":{"field":"method","type":"nominal","scale":{"domain":["REINFORCE","VHRL","VHRED","Transformer"],"range":["#008fd5","#fc4f30","#6d904f","#810f7c"]},"title":null}}}
]},
{"width":177,"height":139,"title":{"text":"Question","offset":3},
"layer":[
{"data":{"values":[{}]},"mark":{"type":"rule","color":"#aaaaaa","strokeWidth":1.5},
"encoding":{"x":{"datum":0,"type":"quantitative","scale":{"domain":[-4.79,77.53],"nice":false,"zero":false},"axis":{"values":[0,20,40,60],"title":null,"orient":"bottom"}}}},
{"data":{"values":[{}]},"mark":{"type":"rule","color":"#aaaaaa","strokeWidth":1.5},
"encoding":{"y":{"datum":0,"type":"quantitative","scale":{"domain":[-0.0657,1.0764],"nice":false,"zero":false},"axis":{"values":[0,0.2,0.4,0.6,0.8,1],"labelExpr":"datum.value == 0 ? '0.0' : datum.value == 1 ? '1.0' : ''","title":null,"orient":"left"}}}},
{"data":{"name":"question"},"transform":[{"filter":"datum.method == 'REINFORCE'"}],"mark":{"type":"area","color":"#008fd5","opacity":0.3},
"encoding":{"x":{"field":"step","type":"quantitative","scale":{"domain":[-4.79,77.53],"nice":false,"zero":false},"axis":{"values":[0,20,40,60],"title":null,"orient":"bottom"}},"y":{"field":"lo","type":"quantitative","scale":{"domain":[-0.0657,1.0764],"nice":false,"zero":false},"axis":{"values":[0,0.2,0.4,0.6,0.8,1],"labelExpr":"datum.value == 0 ? '0.0' : datum.value == 1 ? '1.0' : ''","title":null,"orient":"left"}},"y2":{"field":"hi"}}},
{"data":{"name":"question"},"transform":[{"filter":"datum.method == 'VHRL'"}],"mark":{"type":"area","color":"#fc4f30","opacity":0.3},
"encoding":{"x":{"field":"step","type":"quantitative","scale":{"domain":[-4.79,77.53],"nice":false,"zero":false},"axis":{"values":[0,20,40,60],"title":null,"orient":"bottom"}},"y":{"field":"lo","type":"quantitative","scale":{"domain":[-0.0657,1.0764],"nice":false,"zero":false},"axis":{"values":[0,0.2,0.4,0.6,0.8,1],"labelExpr":"datum.value == 0 ? '0.0' : datum.value == 1 ? '1.0' : ''","title":null,"orient":"left"}},"y2":{"field":"hi"}}},
{"data":{"name":"question"},"transform":[{"filter":"datum.method == 'REINFORCE'"}],"mark":{"type":"line","color":"#008fd5","strokeWidth":1.6},
"encoding":{"x":{"field":"step","type":"quantitative","scale":{"domain":[-4.79,77.53],"nice":false,"zero":false},"axis":{"values":[0,20,40,60],"title":null,"orient":"bottom"}},"y":{"field":"reward","type":"quantitative","scale":{"domain":[-0.0657,1.0764],"nice":false,"zero":false},"axis":{"values":[0,0.2,0.4,0.6,0.8,1],"labelExpr":"datum.value == 0 ? '0.0' : datum.value == 1 ? '1.0' : ''","title":null,"orient":"left"}}}},
{"data":{"name":"question"},"transform":[{"filter":"datum.method == 'VHRL'"}],"mark":{"type":"line","color":"#fc4f30","strokeWidth":1.6},
"encoding":{"x":{"field":"step","type":"quantitative","scale":{"domain":[-4.79,77.53],"nice":false,"zero":false},"axis":{"values":[0,20,40,60],"title":null,"orient":"bottom"}},"y":{"field":"reward","type":"quantitative","scale":{"domain":[-0.0657,1.0764],"nice":false,"zero":false},"axis":{"values":[0,0.2,0.4,0.6,0.8,1],"labelExpr":"datum.value == 0 ? '0.0' : datum.value == 1 ? '1.0' : ''","title":null,"orient":"left"}}}},
{"data":{"name":"baselines"},"transform":[{"filter":"datum.task == 'Question'"}],"mark":{"type":"rule","strokeWidth":3},
"encoding":{"x":{"field":"from","type":"quantitative","scale":{"domain":[-4.79,77.53],"nice":false,"zero":false},"axis":{"values":[0,20,40,60],"title":null,"orient":"bottom"}},"x2":{"field":"to"},"y":{"field":"reward","type":"quantitative","scale":{"domain":[-0.0657,1.0764],"nice":false,"zero":false},"axis":{"values":[0,0.2,0.4,0.6,0.8,1],"labelExpr":"datum.value == 0 ? '0.0' : datum.value == 1 ? '1.0' : ''","title":null,"orient":"left"}},"color":{"field":"method","type":"nominal","scale":{"domain":["REINFORCE","VHRL","VHRED","Transformer"],"range":["#008fd5","#fc4f30","#6d904f","#810f7c"]},"title":null}}}
]},
{"width":175,"height":139,"title":{"text":"Repetition","offset":3},
"layer":[
{"data":{"values":[{}]},"mark":{"type":"rect","color":"#f0f0f0","clip":false},
"encoding":{"x":{"datum":-679,"type":"quantitative","scale":{"domain":[-13.5,325],"nice":false,"zero":false},"axis":{"values":[0,50,100,150,200,250,300],"labelExpr":"datum.value % 100 == 0 ? datum.label : ''","title":null,"orient":"bottom"}},"x2":{"datum":139.3},"y":{"datum":-0.2641,"type":"quantitative","scale":{"domain":[-0.059,0.574],"nice":false,"zero":false},"axis":{"values":[0,0.1,0.2,0.3,0.4,0.5],"labelExpr":"datum.value == 0 ? '0.0' : datum.value == 0.5 ? '0.5' : ''","title":null,"orient":"left"}},"y2":{"datum":-1.1703}}},
{"data":{"values":[{}]},"mark":{"type":"rule","color":"#aaaaaa","strokeWidth":1.5},
"encoding":{"x":{"datum":0,"type":"quantitative","scale":{"domain":[-13.5,325],"nice":false,"zero":false},"axis":{"values":[0,50,100,150,200,250,300],"labelExpr":"datum.value % 100 == 0 ? datum.label : ''","title":null,"orient":"bottom"}}}},
{"data":{"values":[{}]},"mark":{"type":"rule","color":"#aaaaaa","strokeWidth":1.5},
"encoding":{"y":{"datum":0,"type":"quantitative","scale":{"domain":[-0.059,0.574],"nice":false,"zero":false},"axis":{"values":[0,0.1,0.2,0.3,0.4,0.5],"labelExpr":"datum.value == 0 ? '0.0' : datum.value == 0.5 ? '0.5' : ''","title":null,"orient":"left"}}}},
{"data":{"name":"repetition"},"transform":[{"filter":"datum.method == 'REINFORCE'"}],"mark":{"type":"area","color":"#008fd5","opacity":0.3},
"encoding":{"x":{"field":"step","type":"quantitative","scale":{"domain":[-13.5,325],"nice":false,"zero":false},"axis":{"values":[0,50,100,150,200,250,300],"labelExpr":"datum.value % 100 == 0 ? datum.label : ''","title":null,"orient":"bottom"}},"y":{"field":"lo","type":"quantitative","scale":{"domain":[-0.059,0.574],"nice":false,"zero":false},"axis":{"values":[0,0.1,0.2,0.3,0.4,0.5],"labelExpr":"datum.value == 0 ? '0.0' : datum.value == 0.5 ? '0.5' : ''","title":null,"orient":"left"}},"y2":{"field":"hi"}}},
{"data":{"name":"repetition"},"transform":[{"filter":"datum.method == 'VHRL'"}],"mark":{"type":"area","color":"#fc4f30","opacity":0.3},
"encoding":{"x":{"field":"step","type":"quantitative","scale":{"domain":[-13.5,325],"nice":false,"zero":false},"axis":{"values":[0,50,100,150,200,250,300],"labelExpr":"datum.value % 100 == 0 ? datum.label : ''","title":null,"orient":"bottom"}},"y":{"field":"lo","type":"quantitative","scale":{"domain":[-0.059,0.574],"nice":false,"zero":false},"axis":{"values":[0,0.1,0.2,0.3,0.4,0.5],"labelExpr":"datum.value == 0 ? '0.0' : datum.value == 0.5 ? '0.5' : ''","title":null,"orient":"left"}},"y2":{"field":"hi"}}},
{"data":{"name":"repetition"},"transform":[{"filter":"datum.method == 'REINFORCE'"}],"mark":{"type":"line","color":"#008fd5","strokeWidth":1.6},
"encoding":{"x":{"field":"step","type":"quantitative","scale":{"domain":[-13.5,325],"nice":false,"zero":false},"axis":{"values":[0,50,100,150,200,250,300],"labelExpr":"datum.value % 100 == 0 ? datum.label : ''","title":null,"orient":"bottom"}},"y":{"field":"reward","type":"quantitative","scale":{"domain":[-0.059,0.574],"nice":false,"zero":false},"axis":{"values":[0,0.1,0.2,0.3,0.4,0.5],"labelExpr":"datum.value == 0 ? '0.0' : datum.value == 0.5 ? '0.5' : ''","title":null,"orient":"left"}}}},
{"data":{"name":"repetition"},"transform":[{"filter":"datum.method == 'VHRL'"}],"mark":{"type":"line","color":"#fc4f30","strokeWidth":1.6},
"encoding":{"x":{"field":"step","type":"quantitative","scale":{"domain":[-13.5,325],"nice":false,"zero":false},"axis":{"values":[0,50,100,150,200,250,300],"labelExpr":"datum.value % 100 == 0 ? datum.label : ''","title":null,"orient":"bottom"}},"y":{"field":"reward","type":"quantitative","scale":{"domain":[-0.059,0.574],"nice":false,"zero":false},"axis":{"values":[0,0.1,0.2,0.3,0.4,0.5],"labelExpr":"datum.value == 0 ? '0.0' : datum.value == 0.5 ? '0.5' : ''","title":null,"orient":"left"}}}},
{"data":{"name":"baselines"},"transform":[{"filter":"datum.task == 'Repetition'"}],"mark":{"type":"rule","strokeWidth":3},
"encoding":{"x":{"field":"from","type":"quantitative","scale":{"domain":[-13.5,325],"nice":false,"zero":false},"axis":{"values":[0,50,100,150,200,250,300],"labelExpr":"datum.value % 100 == 0 ? datum.label : ''","title":null,"orient":"bottom"}},"x2":{"field":"to"},"y":{"field":"reward","type":"quantitative","scale":{"domain":[-0.059,0.574],"nice":false,"zero":false},"axis":{"values":[0,0.1,0.2,0.3,0.4,0.5],"labelExpr":"datum.value == 0 ? '0.0' : datum.value == 0.5 ? '0.5' : ''","title":null,"orient":"left"}},"color":{"field":"method","type":"nominal","scale":{"domain":["REINFORCE","VHRL","VHRED","Transformer"],"range":["#008fd5","#fc4f30","#6d904f","#810f7c"]},"title":null}}}
]}
],"spacing":42,"bounds":"flush","resolve":{"scale":{"color":"shared"},"legend":{"color":"shared"}}},
{"hconcat":[
{"width":69.6,"height":141,"view":{"fill":null,"stroke":null},"data":{"values":[]},"mark":"point"},
{"width":173,"height":141,"title":{"text":"Semantic Sim.","offset":7.5},
"layer":[
{"data":{"values":[{}]},"mark":{"type":"rule","color":"#aaaaaa","strokeWidth":1.5},
"encoding":{"x":{"datum":0,"type":"quantitative","scale":{"domain":[-5.49,103.66],"nice":false,"zero":false},"axis":{"values":[0,20,40,60,80,100],"title":null,"labelPadding":3,"orient":"bottom"}}}},
{"data":{"name":"semantic"},"transform":[{"filter":"datum.method == 'REINFORCE'"}],"mark":{"type":"area","color":"#008fd5","opacity":0.3},
"encoding":{"x":{"field":"step","type":"quantitative","scale":{"domain":[-5.49,103.66],"nice":false,"zero":false},"axis":{"values":[0,20,40,60,80,100],"title":null,"labelPadding":3,"orient":"bottom"}},"y":{"field":"lo","type":"quantitative","scale":{"domain":[0.19263,0.41364],"nice":false,"zero":false},"axis":{"values":[0.2,0.25,0.3,0.35,0.4],"labelExpr":"datum.value == 0.2 ? '0.2' : datum.value == 0.4 ? '0.4' : ''","title":null,"orient":"left"}},"y2":{"field":"hi"}}},
{"data":{"name":"semantic"},"transform":[{"filter":"datum.method == 'VHRL'"}],"mark":{"type":"area","color":"#fc4f30","opacity":0.3},
"encoding":{"x":{"field":"step","type":"quantitative","scale":{"domain":[-5.49,103.66],"nice":false,"zero":false},"axis":{"values":[0,20,40,60,80,100],"title":null,"labelPadding":3,"orient":"bottom"}},"y":{"field":"lo","type":"quantitative","scale":{"domain":[0.19263,0.41364],"nice":false,"zero":false},"axis":{"values":[0.2,0.25,0.3,0.35,0.4],"labelExpr":"datum.value == 0.2 ? '0.2' : datum.value == 0.4 ? '0.4' : ''","title":null,"orient":"left"}},"y2":{"field":"hi"}}},
{"data":{"name":"semantic"},"transform":[{"filter":"datum.method == 'REINFORCE'"}],"mark":{"type":"line","color":"#008fd5","strokeWidth":1.6},
"encoding":{"x":{"field":"step","type":"quantitative","scale":{"domain":[-5.49,103.66],"nice":false,"zero":false},"axis":{"values":[0,20,40,60,80,100],"title":null,"labelPadding":3,"orient":"bottom"}},"y":{"field":"reward","type":"quantitative","scale":{"domain":[0.19263,0.41364],"nice":false,"zero":false},"axis":{"values":[0.2,0.25,0.3,0.35,0.4],"labelExpr":"datum.value == 0.2 ? '0.2' : datum.value == 0.4 ? '0.4' : ''","title":null,"orient":"left"}}}},
{"data":{"name":"semantic"},"transform":[{"filter":"datum.method == 'VHRL'"}],"mark":{"type":"line","color":"#fc4f30","strokeWidth":1.6},
"encoding":{"x":{"field":"step","type":"quantitative","scale":{"domain":[-5.49,103.66],"nice":false,"zero":false},"axis":{"values":[0,20,40,60,80,100],"title":null,"labelPadding":3,"orient":"bottom"}},"y":{"field":"reward","type":"quantitative","scale":{"domain":[0.19263,0.41364],"nice":false,"zero":false},"axis":{"values":[0.2,0.25,0.3,0.35,0.4],"labelExpr":"datum.value == 0.2 ? '0.2' : datum.value == 0.4 ? '0.4' : ''","title":null,"orient":"left"}}}},
{"data":{"name":"baselines"},"transform":[{"filter":"datum.task == 'Semantic Sim.'"}],"mark":{"type":"rule","strokeWidth":3},
"encoding":{"x":{"field":"from","type":"quantitative","scale":{"domain":[-5.49,103.66],"nice":false,"zero":false},"axis":{"values":[0,20,40,60,80,100],"title":null,"labelPadding":3,"orient":"bottom"}},"x2":{"field":"to"},"y":{"field":"reward","type":"quantitative","scale":{"domain":[0.19263,0.41364],"nice":false,"zero":false},"axis":{"values":[0.2,0.25,0.3,0.35,0.4],"labelExpr":"datum.value == 0.2 ? '0.2' : datum.value == 0.4 ? '0.4' : ''","title":null,"orient":"left"}},"color":{"field":"method","type":"nominal","scale":{"domain":["REINFORCE","VHRL","VHRED","Transformer"],"range":["#008fd5","#fc4f30","#6d904f","#810f7c"]},"title":null}}}
]},
{"width":175,"height":128,"title":{"text":"Toxicity","offset":-38.5},
"layer":[
{"data":{"values":[{}]},"mark":{"type":"rule","color":"#aaaaaa","strokeWidth":1.5},
"encoding":{"x":{"datum":0,"type":"quantitative","scale":{"domain":[-24.5,468.5],"nice":false,"zero":false},"axis":{"values":[0,100,200,300,400],"title":null,"labelPadding":15,"orient":"bottom"}}}},
{"data":{"values":[{}]},"mark":{"type":"rule","color":"#aaaaaa","strokeWidth":1.5},
"encoding":{"y":{"datum":0,"type":"quantitative","scale":{"domain":[-0.0053,0.0762],"nice":false,"zero":false},"axis":{"values":[0,0.01,0.02,0.03,0.04,0.05,0.06,0.07],"labelExpr":"datum.value == 0 ? '0.0' : datum.value == 0.07 ? '0.07' : ''","title":null,"orient":"left"}}}},
{"data":{"name":"toxicity"},"transform":[{"filter":"datum.method == 'REINFORCE'"}],"mark":{"type":"area","color":"#008fd5","opacity":0.3},
"encoding":{"x":{"field":"step","type":"quantitative","scale":{"domain":[-24.5,468.5],"nice":false,"zero":false},"axis":{"values":[0,100,200,300,400],"title":null,"labelPadding":15,"orient":"bottom"}},"y":{"field":"lo","type":"quantitative","scale":{"domain":[-0.0053,0.0762],"nice":false,"zero":false},"axis":{"values":[0,0.01,0.02,0.03,0.04,0.05,0.06,0.07],"labelExpr":"datum.value == 0 ? '0.0' : datum.value == 0.07 ? '0.07' : ''","title":null,"orient":"left"}},"y2":{"field":"hi"}}},
{"data":{"name":"toxicity"},"transform":[{"filter":"datum.method == 'VHRL'"}],"mark":{"type":"area","color":"#fc4f30","opacity":0.3},
"encoding":{"x":{"field":"step","type":"quantitative","scale":{"domain":[-24.5,468.5],"nice":false,"zero":false},"axis":{"values":[0,100,200,300,400],"title":null,"labelPadding":15,"orient":"bottom"}},"y":{"field":"lo","type":"quantitative","scale":{"domain":[-0.0053,0.0762],"nice":false,"zero":false},"axis":{"values":[0,0.01,0.02,0.03,0.04,0.05,0.06,0.07],"labelExpr":"datum.value == 0 ? '0.0' : datum.value == 0.07 ? '0.07' : ''","title":null,"orient":"left"}},"y2":{"field":"hi"}}},
{"data":{"name":"toxicity"},"transform":[{"filter":"datum.method == 'REINFORCE'"}],"mark":{"type":"line","color":"#008fd5","strokeWidth":1.6},
"encoding":{"x":{"field":"step","type":"quantitative","scale":{"domain":[-24.5,468.5],"nice":false,"zero":false},"axis":{"values":[0,100,200,300,400],"title":null,"labelPadding":15,"orient":"bottom"}},"y":{"field":"reward","type":"quantitative","scale":{"domain":[-0.0053,0.0762],"nice":false,"zero":false},"axis":{"values":[0,0.01,0.02,0.03,0.04,0.05,0.06,0.07],"labelExpr":"datum.value == 0 ? '0.0' : datum.value == 0.07 ? '0.07' : ''","title":null,"orient":"left"}}}},
{"data":{"name":"toxicity"},"transform":[{"filter":"datum.method == 'VHRL'"}],"mark":{"type":"line","color":"#fc4f30","strokeWidth":1.6},
"encoding":{"x":{"field":"step","type":"quantitative","scale":{"domain":[-24.5,468.5],"nice":false,"zero":false},"axis":{"values":[0,100,200,300,400],"title":null,"labelPadding":15,"orient":"bottom"}},"y":{"field":"reward","type":"quantitative","scale":{"domain":[-0.0053,0.0762],"nice":false,"zero":false},"axis":{"values":[0,0.01,0.02,0.03,0.04,0.05,0.06,0.07],"labelExpr":"datum.value == 0 ? '0.0' : datum.value == 0.07 ? '0.07' : ''","title":null,"orient":"left"}}}},
{"data":{"name":"baselines"},"transform":[{"filter":"datum.task == 'Toxicity'"}],"mark":{"type":"rule","strokeWidth":3},
"encoding":{"x":{"field":"from","type":"quantitative","scale":{"domain":[-24.5,468.5],"nice":false,"zero":false},"axis":{"values":[0,100,200,300,400],"title":null,"labelPadding":15,"orient":"bottom"}},"x2":{"field":"to"},"y":{"field":"reward","type":"quantitative","scale":{"domain":[-0.0053,0.0762],"nice":false,"zero":false},"axis":{"values":[0,0.01,0.02,0.03,0.04,0.05,0.06,0.07],"labelExpr":"datum.value == 0 ? '0.0' : datum.value == 0.07 ? '0.07' : ''","title":null,"orient":"left"}},"color":{"field":"method","type":"nominal","scale":{"domain":["REINFORCE","VHRL","VHRED","Transformer"],"range":["#008fd5","#fc4f30","#6d904f","#810f7c"]},"title":null}}},
{"data":{"values":[{}]},"mark":{"type":"point","shape":"circle","filled":false,"color":"#ff0000","strokeWidth":7,"size":45796,"opacity":1,"clip":false},
"encoding":{"x":{"datum":248.5,"type":"quantitative","scale":{"domain":[-24.5,468.5],"nice":false,"zero":false},"axis":{"values":[0,100,200,300,400],"title":null,"labelPadding":15,"orient":"bottom"}},"y":{"datum":0.02751,"type":"quantitative","scale":{"domain":[-0.0053,0.0762],"nice":false,"zero":false},"axis":{"values":[0,0.01,0.02,0.03,0.04,0.05,0.06,0.07],"labelExpr":"datum.value == 0 ? '0.0' : datum.value == 0.07 ? '0.07' : ''","title":null,"orient":"left"}}}},
{"data":{"values":[{}]},"mark":{"type":"point","shape":"M-1,-1H0.86V1H-1Z","filled":true,"color":"#ff0000","size":1681,"opacity":1,"clip":false},
"encoding":{"x":{"datum":737.7,"type":"quantitative","scale":{"domain":[-24.5,468.5],"nice":false,"zero":false},"axis":{"values":[0,100,200,300,400],"title":null,"labelPadding":15,"orient":"bottom"}},"y":{"datum":0.04279,"type":"quantitative","scale":{"domain":[-0.0053,0.0762],"nice":false,"zero":false},"axis":{"values":[0,0.01,0.02,0.03,0.04,0.05,0.06,0.07],"labelExpr":"datum.value == 0 ? '0.0' : datum.value == 0.07 ? '0.07' : ''","title":null,"orient":"left"}}}}
]}
],"spacing":42,"bounds":"flush","resolve":{"scale":{"color":"shared"},"legend":{"color":"shared"}}}
],
"config":{
"view":{"stroke":null,"fill":"#f0f0f0"},
"axis":{"grid":true,"gridColor":"#cbcbcb","gridWidth":1,"domain":false,"ticks":false,"labelFont":"DejaVu Sans","labelFontSize":12.5,"labelColor":"#444444","labelFlush":false,"labelOverlap":false,"titleFont":"DejaVu Sans","titleFontSize":15.5,"titleFontWeight":"normal","titleColor":"#222222"},
"axisX":{"labelPadding":6,"titlePadding":1},
"axisY":{"labelPadding":3,"titlePadding":5},
"title":{"font":"DejaVu Sans","fontSize":15.5,"fontWeight":"normal","color":"#222222","anchor":"middle","offset":6},
"legend":{"orient":"none","legendX":-5,"legendY":-61,"direction":"horizontal","fillColor":"#f0f0f0","strokeColor":"#d9d9d9","padding":7,"symbolType":"stroke","symbolSize":625,"symbolStrokeWidth":3,"clipHeight":14,"labelFont":"DejaVu Sans","labelFontSize":14,"labelColor":"#222222","labelOffset":10,"columnPadding":15}
}
}
